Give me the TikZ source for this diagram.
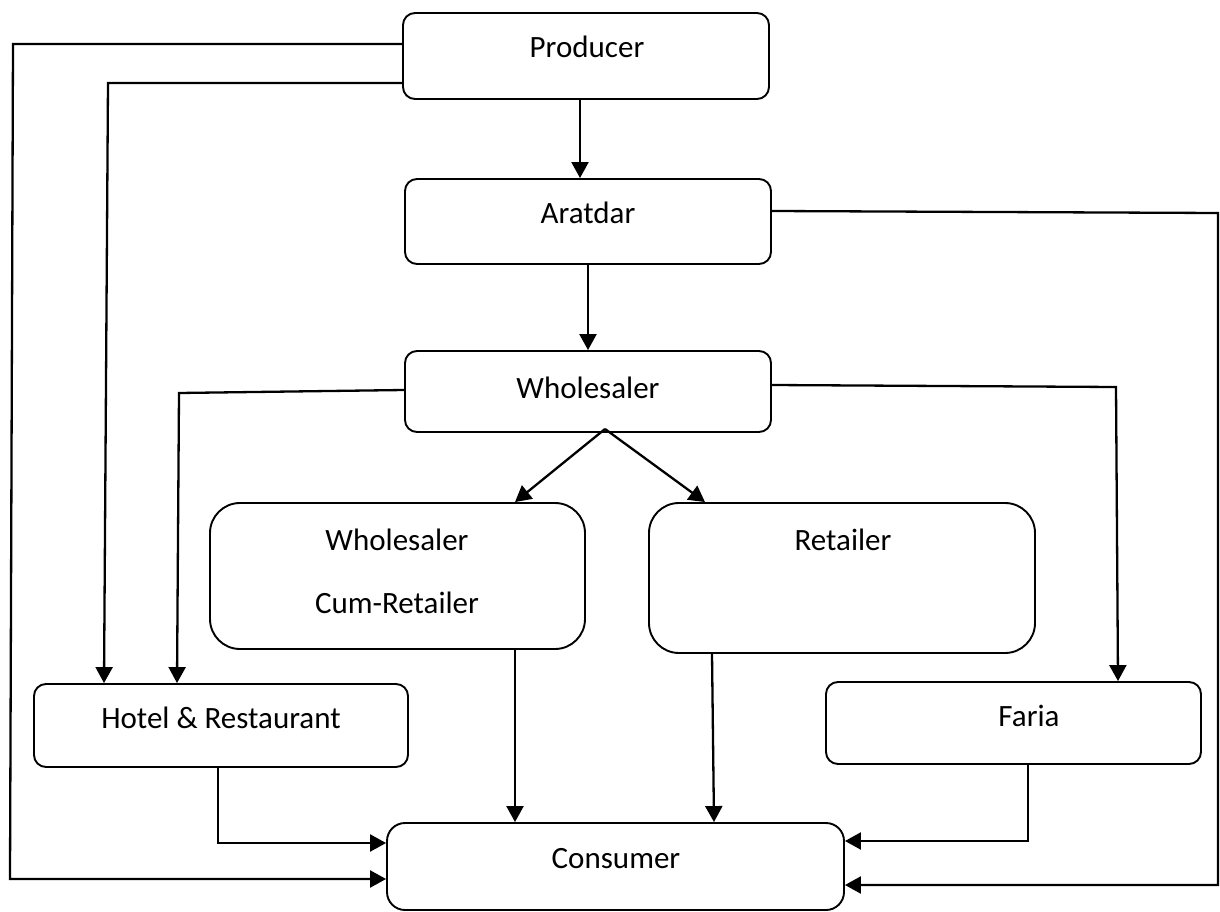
\documentclass[tikz,border=0pt]{standalone}
\usepackage{fontspec}
\setmainfont{Carlito}
\usetikzlibrary{arrows.meta}
\tikzset{
  box/.style={draw, line width=1.9pt, inner sep=0pt, rounded corners=12pt},
  bigbox/.style={box, rounded corners=30pt},
  txt/.style={anchor=base, inner sep=0pt, font=\fontsize{31}{37}\selectfont},
  conn/.style={draw, line width=2.3pt, -{Triangle[length=16pt,width=17pt]}},
}
\begin{document}
\begin{tikzpicture}[x=1pt,y=-1pt]
\useasboundingbox (0,0) rectangle (1220,912);
% boxes
\node[box, minimum width=366pt, minimum height=86pt] (prod) at (586,56) {};
\node[box, minimum width=366pt, minimum height=85pt] (arat) at (588,221.5) {};
\node[box, minimum width=366pt, minimum height=81pt] (whole) at (588,391.5) {};
\node[bigbox, minimum width=375pt, minimum height=146pt] (wcr) at (397.5,576) {};
\node[bigbox, minimum width=386pt, minimum height=150pt] (ret) at (842,578) {};
\node[box, minimum width=374pt, minimum height=83pt] (hotel) at (221,725.5) {};
\node[box, minimum width=375pt, minimum height=82pt] (faria) at (1013.5,723) {};
\node[box, rounded corners=18pt, minimum width=457pt, minimum height=87pt] (cons) at (615.5,866.5) {};
% texts
\node[txt] (prodT) at (587,58) {Producer};
\node[txt] (aratT) at (588,223) {Aratdar};
\node[txt] (wholeT) at (588,398) {Wholesaler};
\node[txt] (wcrT1) at (397,550) {Wholesaler};
\node[txt] (wcrT2) at (397,613) {Cum-Retailer};
\node[txt] (retT) at (843,550) {Retailer};
\node[txt] (hotelT) at (221,728) {Hotel \& Restaurant};
\node[txt] (fariaT) at (1029,726) {Faria};
\node[txt] (consT) at (616,868) {Consumer};
% connectors
\coordinate (pl1) at (13,44);
\coordinate (pl2) at (10,879);
\draw[conn] (prod.west |- pl1) -- (pl1) -- (pl2) -- (cons.west |- pl2);
\coordinate (pm1) at (108,83);
\coordinate (pm2) at (104,684);
\draw[conn] (prod.west |- pm1) -- (pm1) -- (hotel.north -| pm2);
\coordinate (pa) at (580,0);
\draw[conn] (prod.south -| pa) -- (arat.north -| pa);
\coordinate (aw) at (588,0);
\draw[conn] (arat.south -| aw) -- (whole.north -| aw);
\coordinate (ar1) at (1218,213);
\coordinate (ar2) at (1218,885);
\draw[conn] (arat.east |- 0,211) -- (ar1) -- (ar2) -- (cons.east |- ar2);
\coordinate (wl1) at (179,393);
\coordinate (wl2) at (177,684);
\draw[conn] (whole.west |- 0,390) -- (wl1) -- (hotel.north -| wl2);
\coordinate (wr1) at (1116,387);
\coordinate (wr2) at (1118,682);
\draw[conn] (whole.east |- 0,385) -- (wr1) -- (faria.north -| wr2);
\coordinate (split) at (605,429);
\coordinate (sl) at (515,0);
\coordinate (sr) at (705,0);
\draw[conn] (split) -- (wcr.north -| sl);
\draw[conn] (split) -- (ret.north -| sr);
\coordinate (wc) at (515,0);
\draw[conn] (wcr.south -| wc) -- (cons.north -| wc);
\coordinate (rc1) at (712,0);
\coordinate (rc2) at (714,0);
\draw[conn] (ret.south -| rc1) -- (cons.north -| rc2);
\coordinate (hc1) at (218,843);
\draw[conn] (hotel.south -| hc1) -- (hc1) -- (cons.west |- hc1);
\coordinate (fc1) at (1028,841);
\draw[conn] (faria.south -| fc1) -- (fc1) -- (cons.east |- fc1);
\end{tikzpicture}
\end{document}
